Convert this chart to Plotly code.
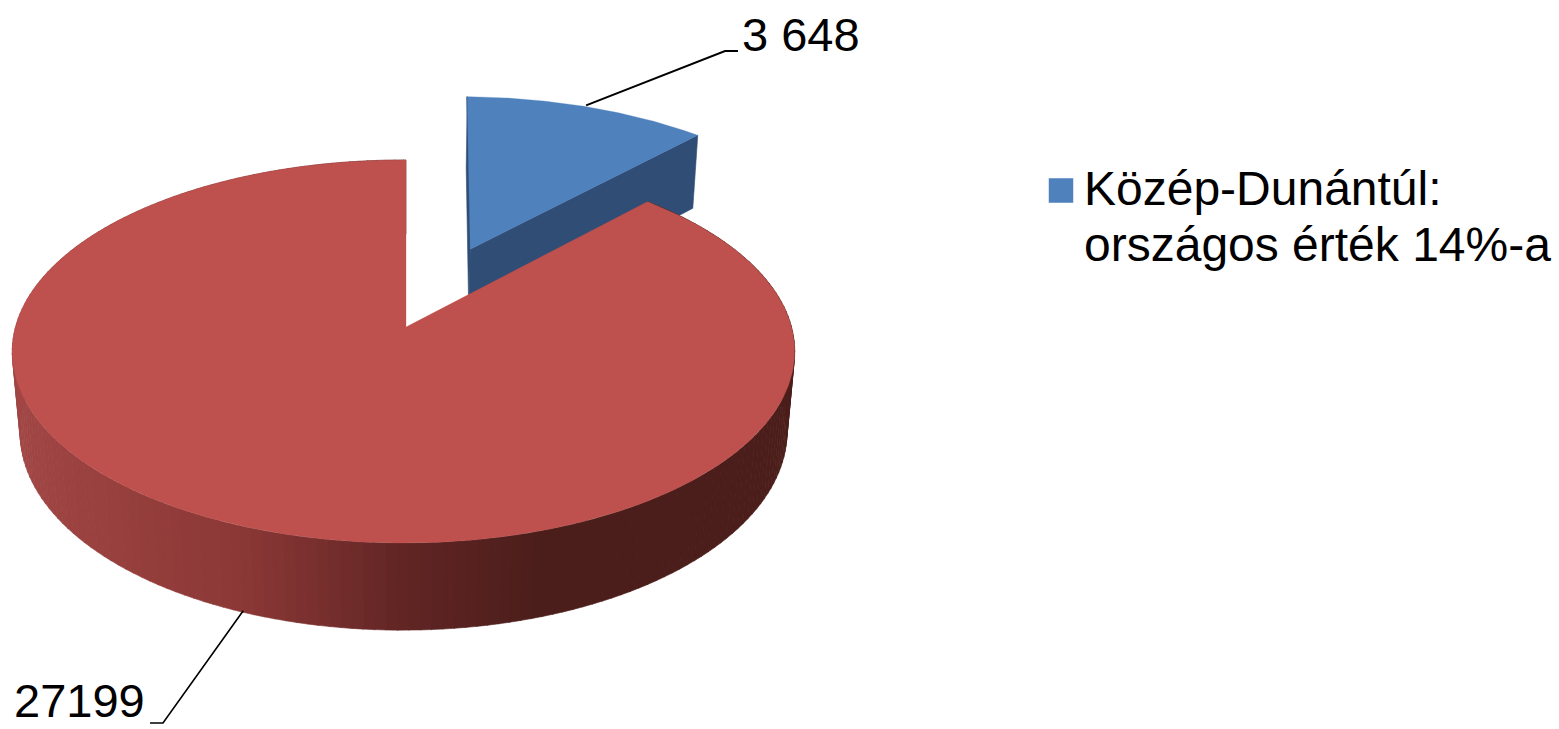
import numpy as np
import plotly.graph_objects as go

# ---- data -------------------------------------------------------------
legend_lines = ["Közép-Dunántúl:", "országos érték 14%-a"]
slice_values = [3648, 27199]
slice_labels = ["3 648", "27199"]

# ---- style ------------------------------------------------------------
TOP_COLORS = ["#4F81BD", "#BE504D"]
BLUE_FACE = "#2F4D75"
SIDE_STOPS_X = [20, 250, 400, 535, 800]
SIDE_STOPS_RGB = [(162, 71, 69), (138, 56, 54), (98, 38, 37), (76, 30, 27), (76, 30, 27)]
FONT = "Liberation Sans"
W, H = 1559, 729

# 3-D projection of the pie (camera above, slight perspective)
X0, Y0, A, B, C = 406.0, 327.0, 388.0, 188.4, 82.0
P, Q, R = 0.128, 0.0064, 0.02
EXPLODE = 0.468        # blue slice pulled out along its bisector
BLUE_DU = 0.005
BLUE_ROT_START = 0.7   # degrees
BLUE_ROT_END = 0.6
RED_ROT_START = 0.5
BLUE_SCALE = 1.015


def project(u, v, z=0.0):
    u, v = np.asarray(u, float), np.asarray(v, float)
    w = 1 + P * v + Q * u + R * z
    return X0 + A * u / w, Y0 - (B * v - C * z) / w


def ring(a0, a1, step=0.5):
    n = max(2, int(abs(a1 - a0) / step) + 1)
    return np.radians(np.linspace(a0, a1, n))


total = sum(slice_values)
sweep = [v / total * 360 for v in slice_values]
blue_a0, blue_a1 = BLUE_ROT_START, sweep[0] + BLUE_ROT_END
red_a0, red_a1 = sweep[0] + RED_ROT_START, 360.0
blue_mid = np.radians(sweep[0] / 2)
red_mid = np.radians((sweep[0] + 360.0) / 2)
bu, bv = EXPLODE * np.sin(blue_mid) + BLUE_DU, EXPLODE * np.cos(blue_mid)


def poly(x, y, color, width=0.6):
    return go.Scatter(
        x=list(x), y=list(y), mode="lines", fill="toself", fillcolor=color,
        line=dict(color=color, width=width), hoverinfo="skip", showlegend=False,
    )


fig = go.Figure()

# blue slice: cut faces, thin dark left edge, then the top
for ang in (blue_a0, blue_a1):
    t = np.radians(ang)
    eu, ev = bu + BLUE_SCALE * np.sin(t), bv + BLUE_SCALE * np.cos(t)
    x1, y1 = project([bu, eu], [bv, ev], 0)
    x2, y2 = project([eu, bu], [ev, bv], 1)
    fig.add_trace(poly(np.r_[x1, x2, x1[0]], np.r_[y1, y2, y1[0]], BLUE_FACE))
t0 = np.radians(blue_a0)
ex, ey = project([bu + BLUE_SCALE * np.sin(t0), bu], [bv + BLUE_SCALE * np.cos(t0), bv])
fig.add_trace(go.Scatter(x=list(ex), y=list(ey), mode="lines", hoverinfo="skip", showlegend=False,
                         line=dict(color=BLUE_FACE, width=1.6)))
t = ring(blue_a0, blue_a1)
x, y = project(bu + BLUE_SCALE * np.sin(t), bv + BLUE_SCALE * np.cos(t))
ax, ay = project(bu, bv)
fig.add_trace(poly(np.r_[ax, x, ax], np.r_[ay, y, ay], TOP_COLORS[0], 0.3))

# red slice: shaded rim as narrow strips, then the top
edges = np.arange(red_a0, red_a1, 1.5)
for a0 in edges:
    t = np.radians([a0, min(a0 + 1.6, 360.0)])
    x1, y1 = project(np.sin(t), np.cos(t), 0)
    x2, y2 = project(np.sin(t[::-1]), np.cos(t[::-1]), 1)
    xm = float(np.mean(x2))
    rgb = [np.interp(xm, SIDE_STOPS_X, [c[i] for c in SIDE_STOPS_RGB]) for i in range(3)]
    col = "rgb(%d,%d,%d)" % tuple(rgb)
    fig.add_trace(poly(np.r_[x1, x2, x1[0]], np.r_[y1, y2, y1[0]], col))
t = ring(red_a0, red_a1)
x, y = project(np.sin(t), np.cos(t))
ax, ay = project(0, 0)
fig.add_trace(poly(np.r_[ax, x, ax], np.r_[ay, y, ay], TOP_COLORS[1], 0.3))

# leader lines
sx, sy = project(bu + np.sin(blue_mid), bv + np.cos(blue_mid))
fig.add_trace(go.Scatter(x=[float(sx) + 3, 725, 738], y=[float(sy) - 3, 51, 51], mode="lines",
                         line=dict(color="black", width=2), hoverinfo="skip", showlegend=False))
sx, sy = project(np.sin(red_mid), np.cos(red_mid), 1)
fig.add_trace(go.Scatter(x=[float(sx) - 6, 163, 150], y=[float(sy) - 3, 723, 723], mode="lines",
                         line=dict(color="black", width=1.6), hoverinfo="skip", showlegend=False))

# legend key
fig.add_trace(go.Scatter(
    x=[1061], y=[190.5], mode="markers", name=legend_lines[0], hoverinfo="skip", showlegend=False,
    marker=dict(symbol="square", size=24.5, color=TOP_COLORS[0], line=dict(width=0)),
))


def label(x, y, text, size):
    fig.add_annotation(x=x, y=y, text=text, showarrow=False, xanchor="left", yanchor="middle",
                       font=dict(family=FONT, size=size, color="black"))


label(740, 34, slice_labels[0], 47)
label(12, 700, slice_labels[1], 47)
label(1082, 188, legend_lines[0], 48)
label(1082, 244, legend_lines[1], 48)

fig.update_layout(
    width=W, height=H, margin=dict(l=0, r=0, t=0, b=0),
    paper_bgcolor="white", plot_bgcolor="white",
    xaxis=dict(range=[0, W], visible=False, fixedrange=True),
    yaxis=dict(range=[H, 0], visible=False, fixedrange=True),
    showlegend=False,
)
fig.write_html(
    "out.html", config={"displayModeBar": False},
    post_script="document.body.style.margin='0';document.body.style.overflow='hidden';",
)
